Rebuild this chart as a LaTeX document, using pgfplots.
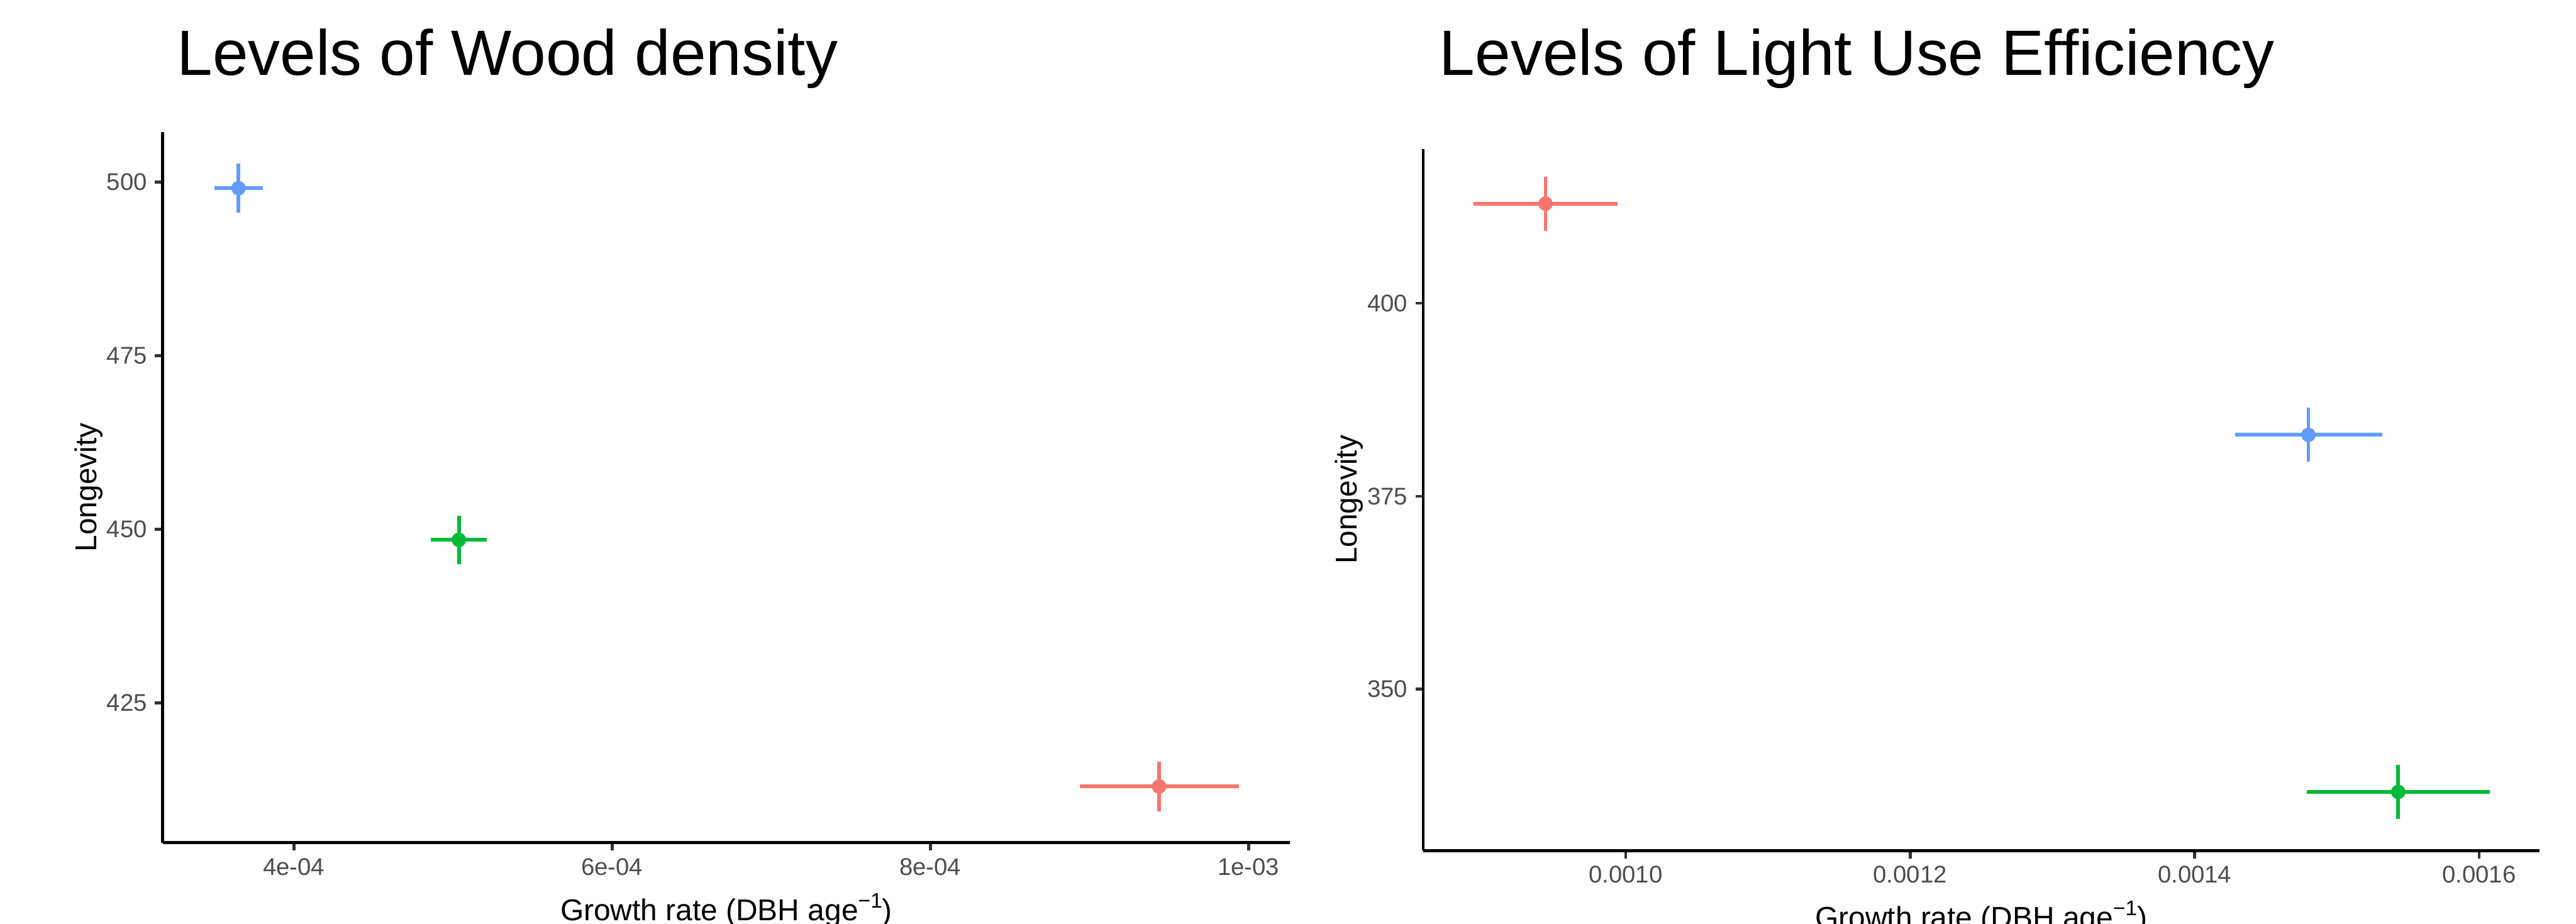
\documentclass[border=0pt]{standalone}
\usepackage{pgfplots}
\pgfplotsset{compat=1.18}
\usepackage{fontspec}
\setmainfont{Liberation Sans}
\definecolor{ggred}{HTML}{F8766D}
\definecolor{gggreen}{HTML}{00BA38}
\definecolor{ggblue}{HTML}{619CFF}
\definecolor{gray30}{HTML}{4D4D4D}
\definecolor{gray20}{HTML}{333333}

\pgfplotsset{
  panel/.style={
    scale only axis, anchor=south west,
    axis lines=left, axis line style={-, line width=0.5pt, black},
    scaled x ticks=false, scaled y ticks=false,
    tick align=outside, major tick length=1.3pt,
    tick style={line width=0.5pt, gray20},
    ticklabel style={font=\fontsize{4}{4.8}\selectfont, text=gray30, inner sep=0pt},
    xticklabel style={anchor=north, yshift=-1.1pt},
    yticklabel style={anchor=east, xshift=-1.1pt},
    label style={font=\fontsize{5}{6}\selectfont, inner sep=0pt},
    xlabel style={at={(axis description cs:0.5,0)}, anchor=base, yshift=-12.9pt},
    ylabel style={at={(axis description cs:0,0.5)}, anchor=base, yshift=11pt},
    xlabel={Growth rate (DBH age\raisebox{2.1pt}{\fontsize{3.5}{4}\selectfont −1})},
    ylabel={Longevity},
  },
  dot/.style={mark=*, mark size=1pt, draw=#1, fill=#1, only marks,
    mark options={draw=#1, fill=#1},
    error bars/.cd, x dir=both, y dir=both, x explicit, y explicit,
    error mark=none, error bar style={line width=0.6pt, #1}},
}

\begin{document}
\begin{tikzpicture}
% left panel: wood density
\begin{axis}[panel,
  at={(27pt,13.4pt)}, width=187.2pt, height=118pt,
  xmin=3.175e-4, xmax=1.0261e-3, ymin=404.9, ymax=507.2,
  xtick={4e-4,6e-4,8e-4,1e-3}, xticklabels={4e-04,6e-04,8e-04,1e-03},
  ytick={425,450,475,500}, yticklabels={425,450,475,500},
]
\addplot[dot=ggblue] table[x=x, y=y, x error=ex, y error=ey, row sep=\\] {
x y ex ey \\
3.652e-4 499.1 1.526e-5 3.51 \\
};
\addplot[dot=gggreen] table[x=x, y=y, x error=ex, y error=ey, row sep=\\] {
x y ex ey \\
5.037e-4 448.5 1.75e-5 3.5 \\
};
\addplot[dot=ggred] table[x=x, y=y, x error=ex, y error=ey, row sep=\\] {
x y ex ey \\
9.438e-4 413.0 5.0e-5 3.55 \\
};
\end{axis}

% right panel: light use efficiency
\begin{axis}[panel,
  at={(236.3pt,12.1pt)}, width=185.3pt, height=116.5pt,
  xmin=0.0008577, xmax=0.0016423, ymin=329.1, ymax=420.0,
  xtick={0.0010,0.0012,0.0014,0.0016}, xticklabels={0.0010,0.0012,0.0014,0.0016},
  ytick={350,375,400}, yticklabels={350,375,400},
]
\addplot[dot=ggred] table[x=x, y=y, x error=ex, y error=ey, row sep=\\] {
x y ex ey \\
0.0009437 412.9 5.06e-5 3.5 \\
};
\addplot[dot=ggblue] table[x=x, y=y, x error=ex, y error=ey, row sep=\\] {
x y ex ey \\
0.00148 382.95 5.17e-5 3.5 \\
};
\addplot[dot=gggreen] table[x=x, y=y, x error=ex, y error=ey, row sep=\\] {
x y ex ey \\
0.0015431 336.7 6.44e-5 3.5 \\
};
\end{axis}

\node[anchor=base west, inner sep=0pt, font=\fontsize{10.63}{12}\selectfont] at (29.2pt,140.8pt) {Levels of Wood density};
\node[anchor=base west, inner sep=0pt, font=\fontsize{10.63}{12}\selectfont] at (238.8pt,140.8pt) {Levels of Light Use Efficiency};

\pgfresetboundingbox
\path[use as bounding box] (0,0) rectangle (427.7pt,153.3pt);
\end{tikzpicture}
\end{document}
